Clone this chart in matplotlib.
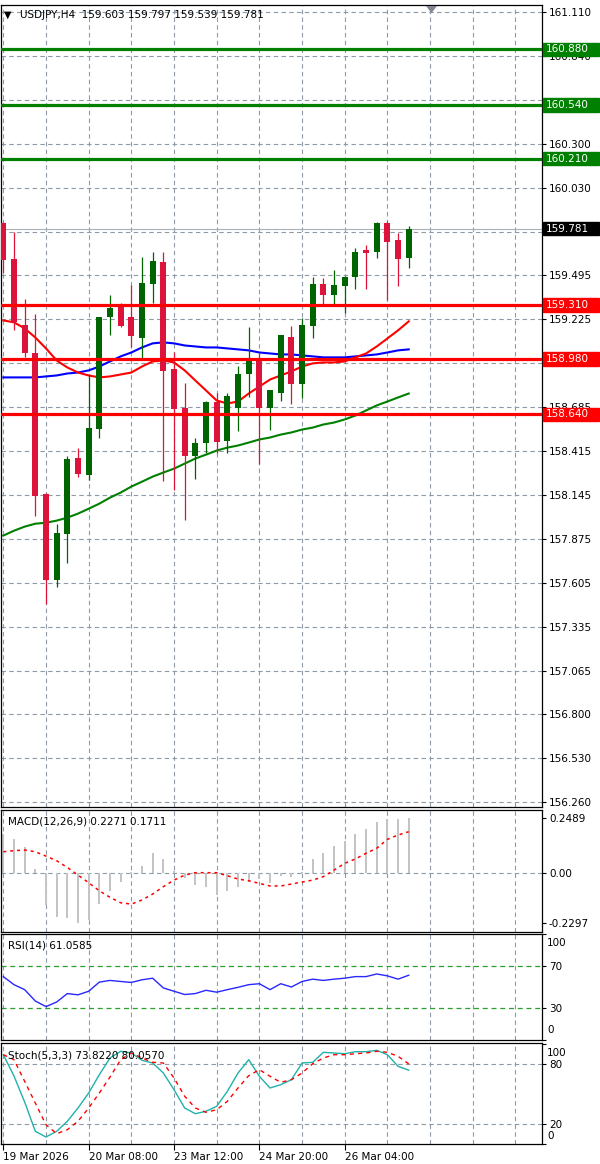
import numpy as np
import matplotlib
matplotlib.use("Agg")
import matplotlib.pyplot as plt
from matplotlib.patches import Rectangle, Polygon
from matplotlib.transforms import blended_transform_factory

# ---------------- data ----------------
opens = [159.813, 159.592, 159.186, 159.014, 158.154, 157.625, 157.908, 158.375, 158.270, 158.553,
         159.235, 159.297, 159.235, 159.106, 159.438, 159.573, 158.916, 158.682, 158.387, 158.467,
         158.713, 158.479, 158.682, 158.885, 158.977, 158.682, 158.774, 159.112, 158.824, 159.180,
         159.438, 159.371, 159.426, 159.481, 159.647, 159.635, 159.813, 159.709, 159.603]
highs = [159.820, 159.758, 159.346, 159.254, 158.160, 157.969, 158.387, 158.436, 158.885, 159.240,
         159.371, 159.321, 159.432, 159.604, 159.635, 159.635, 159.020, 158.830, 158.498, 158.720,
         158.774, 158.774, 158.934, 159.174, 159.014, 158.790, 159.130, 159.180, 159.229, 159.481,
         159.475, 159.524, 159.490, 159.660, 159.678, 159.819, 159.825, 159.752, 159.797]
lows = [159.506, 159.156, 158.990, 158.018, 157.478, 157.582, 157.730, 158.258, 158.240, 158.498,
        159.125, 159.175, 159.051, 158.971, 159.321, 158.234, 158.178, 157.994, 158.246, 158.400,
        158.406, 158.406, 158.541, 158.744, 158.338, 158.547, 158.725, 158.701, 158.738, 159.106,
        159.309, 159.309, 159.260, 159.408, 159.408, 159.598, 159.340, 159.426, 159.539]
closes = [159.590, 159.205, 159.014, 158.141, 157.625, 157.914, 158.369, 158.277, 158.559, 159.235,
          159.291, 159.180, 159.119, 159.444, 159.580, 158.904, 158.676, 158.387, 158.467, 158.713,
          158.473, 158.750, 158.885, 158.965, 158.682, 158.787, 159.125, 158.824, 159.186, 159.438,
          159.371, 159.432, 159.481, 159.635, 159.629, 159.813, 159.696, 159.592, 159.781]

ma_red = [159.217, 159.205, 159.168, 159.112, 159.045, 158.971, 158.928, 158.897, 158.879, 158.867,
          158.873, 158.885, 158.897, 158.934, 158.965, 158.971, 158.959, 158.910, 158.848, 158.787,
          158.725, 158.707, 158.719, 158.768, 158.811, 158.854, 158.879, 158.904, 158.934, 158.953,
          158.959, 158.959, 158.965, 158.990, 159.014, 159.057, 159.106, 159.156, 159.211]
ma_blue = [158.867, 158.867, 158.867, 158.867, 158.873, 158.879, 158.891, 158.897, 158.910, 158.934,
           158.965, 158.996, 159.020, 159.051, 159.076, 159.082, 159.076, 159.063, 159.057, 159.051,
           159.051, 159.045, 159.039, 159.033, 159.020, 159.014, 159.008, 159.008, 159.002, 158.996,
           158.990, 158.990, 158.990, 158.996, 159.002, 159.008, 159.020, 159.033, 159.039]
ma_green = [157.896, 157.926, 157.951, 157.969, 157.975, 157.988, 158.006, 158.031, 158.061, 158.092,
            158.129, 158.160, 158.197, 158.227, 158.258, 158.283, 158.307, 158.338, 158.369, 158.393,
            158.418, 158.436, 158.449, 158.467, 158.486, 158.498, 158.516, 158.529, 158.547, 158.559,
            158.578, 158.590, 158.609, 158.633, 158.664, 158.695, 158.719, 158.744, 158.768]

macd_main = [0.176, 0.153, 0.116, 0.015, -0.150, -0.202, -0.209, -0.229, -0.217, -0.145,
             -0.084, -0.041, 0.003, 0.031, 0.089, 0.061, 0.008, -0.026, -0.057, -0.064,
             -0.102, -0.083, -0.064, -0.041, -0.030, -0.046, -0.015, -0.018, 0.005, 0.061,
             0.092, 0.122, 0.147, 0.177, 0.200, 0.231, 0.245, 0.245, 0.249]
macd_signal = [0.096, 0.101, 0.104, 0.096, 0.076, 0.055, 0.024, -0.011, -0.046, -0.083,
               -0.113, -0.138, -0.144, -0.125, -0.098, -0.064, -0.034, -0.011, 0.000, 0.000,
               0.000, -0.014, -0.029, -0.037, -0.049, -0.061, -0.061, -0.052, -0.043, -0.034,
               -0.018, 0.012, 0.043, 0.063, 0.089, 0.112, 0.153, 0.173, 0.188]

rsi_vals = [59.8, 52.2, 47.5, 36.8, 31.5, 35.8, 43.8, 42.6, 46.0, 54.6,
            56.2, 55.2, 54.3, 56.8, 58.3, 49.1, 46.0, 42.9, 43.8, 46.9,
            45.1, 47.5, 49.7, 52.2, 53.1, 47.5, 53.1, 50.0, 55.2, 57.4,
            56.2, 57.4, 58.3, 59.8, 59.8, 62.3, 60.5, 57.4, 61.1]

stoch_main = [89.3, 68.0, 42.0, 12.7, 7.0, 12.7, 22.7, 36.0, 51.0, 69.3,
              86.0, 92.7, 91.0, 83.7, 81.0, 71.0, 54.3, 36.0, 30.3, 32.7,
              37.7, 52.7, 71.0, 84.3, 67.7, 56.0, 59.3, 64.3, 81.0, 81.7,
              91.7, 91.0, 90.3, 92.3, 92.3, 93.7, 89.3, 77.7, 73.8]
stoch_signal = [89.3, 84.3, 62.7, 41.0, 19.3, 10.3, 14.3, 22.7, 36.0, 51.0,
                67.0, 84.3, 91.0, 86.0, 81.7, 81.0, 66.0, 47.7, 36.0, 31.7,
                34.3, 42.7, 56.0, 68.3, 74.3, 67.7, 61.7, 64.3, 71.0, 80.3,
                86.0, 89.3, 89.3, 90.3, 91.0, 92.7, 91.7, 87.7, 80.1]

resistance_levels = [160.880, 160.540, 160.210]
support_levels = [159.310, 158.980, 158.640]
last_price = 159.781
price_ticks = [161.110, 160.840, 160.570, 160.300, 160.030, 159.760, 159.495, 159.225, 158.955,
               158.685, 158.415, 158.145, 157.875, 157.605, 157.335, 157.065, 156.800, 156.530, 156.260]
hidden_price_labels = [160.570, 159.760]   # fully covered by level boxes in the reference
time_labels = ["19 Mar 2026", "20 Mar 08:00", "23 Mar 12:00", "24 Mar 20:00", "26 Mar 04:00"]
time_label_bars = [0, 8, 16, 24, 32]
macd_ticks = [0.2489, 0.0, -0.2297]
macd_tick_labels = ["0.2489", "0.00", "-0.2297"]

header = "USDJPY,H4  159.603 159.797 159.539 159.781"
macd_title = "MACD(12,26,9) 0.2271 0.1711"
rsi_title = "RSI(14) 61.0585"
stoch_title = "Stoch(5,3,3) 73.8220 80.0570"

# ---------------- layout ----------------
W, H = 600, 1164
fig = plt.figure(figsize=(W / 100, H / 100), dpi=100)
fig.patch.set_facecolor("white")
FS = 7.5
GRID = "#8e9aa6"
BULL = "#006400"
BEAR = "#dc143c"

def axes_px(top, bottom):
    return fig.add_axes([1 / W, 1 - bottom / H, 541 / W, (bottom - top) / H])

ax = axes_px(5, 807)
ax_macd = axes_px(810, 932)
ax_rsi = axes_px(934, 1040)
ax_st = axes_px(1043, 1144)

idx = np.arange(len(opens))
XLIM = (-0.216, 50.49)
grid_x = np.arange(0, 50, 4)

for a in (ax, ax_macd, ax_rsi, ax_st):
    a.set_xlim(*XLIM)
    for s in a.spines.values():
        s.set_color("black")
        s.set_linewidth(0.9)
    a.yaxis.tick_right()
    a.tick_params(axis="y", direction="out", length=3, width=0.8, pad=2,
                  labelsize=FS, colors="black")
    a.tick_params(axis="x", bottom=False, labelbottom=False)
    for gx in grid_x:
        a.axvline(gx, color=GRID, lw=0.8, ls=(0, (4, 3)), zorder=0.5)

# ---------------- main price panel ----------------
ax.set_ylim(156.23, 161.153)
ax.set_yticks(price_ticks)
ax.set_yticklabels(["" if v in hidden_price_labels else f"{v:.3f}" for v in price_ticks])
for v in price_ticks:
    ax.axhline(v, color=GRID, lw=0.8, ls=(0, (4, 3)), zorder=0.5)

ax.axhline(last_price, color="#a8b0b8", lw=0.8, zorder=1)

ax.plot(idx, ma_blue, color="#0000ff", lw=1.5, zorder=2)
ax.plot(idx, ma_red, color="#ff0000", lw=1.5, zorder=2)
ax.plot(idx, ma_green, color="#008000", lw=1.5, zorder=2)

o = np.array(opens); c = np.array(closes)
hi = np.array(highs); lo = np.array(lows)
col = [BULL if cc >= oo else BEAR for oo, cc in zip(o, c)]
ax.vlines(idx, lo, hi, colors=col, lw=0.9, zorder=3)
body_h = np.maximum(np.abs(c - o), 0.008)
ax.bar(idx, body_h, bottom=np.minimum(o, c), width=0.56, color=col, zorder=3.5, linewidth=0)

for v in resistance_levels:
    ax.axhline(v, color="#008000", lw=2.3, zorder=4)
for v in support_levels:
    ax.axhline(v, color="#ff0000", lw=2.3, zorder=4)

px_per_unit = ax.bbox.height / (ax.get_ylim()[1] - ax.get_ylim()[0])
tr_main = blended_transform_factory(fig.transFigure, ax.transData)

def price_box(value, fc):
    h = 13.5 / px_per_unit
    ax.add_patch(Rectangle((543 / W, value - h / 2), 56 / W, h, transform=tr_main,
                           facecolor=fc, edgecolor=fc, clip_on=False, zorder=10))
    ax.text(546 / W, value, f"{value:.3f}", transform=tr_main, color="white",
            fontsize=FS, va="center", ha="left", zorder=11, clip_on=False)

for v in resistance_levels:
    price_box(v, "#008000")
for v in support_levels:
    price_box(v, "#ff0000")
price_box(last_price, "black")

fig.text(4 / W, 1 - 14.5 / H, "\u25BC", fontsize=7, va="center", ha="left", color="black")
fig.text(20 / W, 1 - 14.5 / H, header, fontsize=FS, va="center", ha="left", color="black")
fig.add_artist(Polygon([[426 / W, 1 - 6 / H], [437 / W, 1 - 6 / H], [431.5 / W, 1 - 13 / H]],
                       closed=True, transform=fig.transFigure, facecolor="#7f8790",
                       edgecolor="none"))

# ---------------- MACD ----------------
ax_macd.set_ylim(-0.272, 0.2876)
ax_macd.set_yticks(macd_ticks)
ax_macd.set_yticklabels(macd_tick_labels)
ax_macd.axhline(0, color=GRID, lw=0.8, ls=(0, (4, 3)), zorder=0.5)
ax_macd.bar(idx, macd_main, width=0.2, color="#c4c4c4", zorder=2, linewidth=0)
ax_macd.plot(idx, macd_signal, color="#ff0000", lw=1.1, ls=(0, (2, 2.5)), zorder=3)
fig.text(8 / W, 1 - 822 / H, macd_title, fontsize=FS, va="center", ha="left", color="black")

# ---------------- RSI ----------------
ax_rsi.set_ylim(1.2, 99.8)
ax_rsi.set_yticks([100, 70, 30, 0])
ax_rsi.set_yticklabels(["", "70", "30", ""])
ax_rsi.axhline(70, color="#2e9e2e", lw=0.9, ls=(0, (4, 3)), zorder=1)
ax_rsi.axhline(30, color="#2e9e2e", lw=0.9, ls=(0, (4, 3)), zorder=1)
ax_rsi.plot(idx, rsi_vals, color="#2828ff", lw=1.0, zorder=3)
tr_rsi = blended_transform_factory(fig.transFigure, ax_rsi.transData)
ax_rsi.text(547 / W, 91.4, "100", transform=tr_rsi, fontsize=FS, va="center", ha="left", clip_on=False)
ax_rsi.text(547 / W, 9.5, "0", transform=tr_rsi, fontsize=FS, va="center", ha="left", clip_on=False)
fig.text(8 / W, 1 - 945 / H, rsi_title, fontsize=FS, va="center", ha="left", color="black")

# ---------------- Stochastic ----------------
ax_st.set_ylim(0, 101)
ax_st.set_yticks([100, 80, 20, 0])
ax_st.set_yticklabels(["", "80", "20", ""])
ax_st.axhline(80, color=GRID, lw=0.8, ls=(0, (4, 3)), zorder=0.5)
ax_st.axhline(20, color=GRID, lw=0.8, ls=(0, (4, 3)), zorder=0.5)
ax_st.plot(idx, stoch_main, color="#20b2aa", lw=1.0, zorder=3)
ax_st.plot(idx, stoch_signal, color="#ff0000", lw=1.0, ls=(0, (3, 3)), zorder=3)
tr_st = blended_transform_factory(fig.transFigure, ax_st.transData)
ax_st.text(547 / W, 90.7, "100", transform=tr_st, fontsize=FS, va="center", ha="left", clip_on=False)
ax_st.text(547 / W, 8.3, "0", transform=tr_st, fontsize=FS, va="center", ha="left", clip_on=False)
fig.text(8 / W, 1 - 1055 / H, stoch_title, fontsize=FS, va="center", ha="left", color="black")

ax_st.tick_params(axis="x", bottom=True, labelbottom=True, direction="out", length=4,
                  width=0.8, pad=2, labelsize=FS, colors="black")
ax_st.set_xticks(time_label_bars)
ax_st.set_xticklabels(time_labels)
for lab in ax_st.get_xticklabels():
    lab.set_horizontalalignment("left")

fig.savefig("out.png", dpi=100, facecolor="white")
